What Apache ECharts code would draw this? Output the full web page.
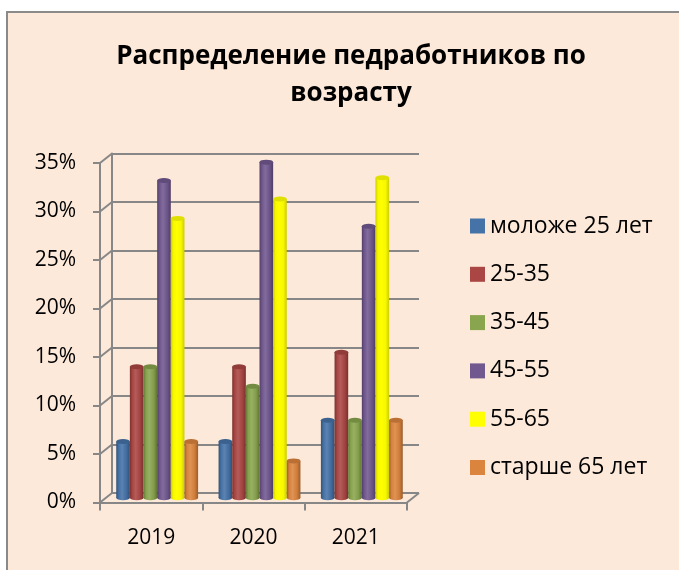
<!DOCTYPE html>
<html>
<head>
<meta charset="utf-8">
<script src="https://cdn.jsdelivr.net/npm/echarts@6/dist/echarts.min.js"></script>
<style>
  html, body { margin: 0; padding: 0; background: #ffffff; }
  #wrap { position: relative; width: 679px; height: 570px; overflow: hidden; }
  #frame { position: absolute; left: 6px; top: 11px; width: 700px; height: 600px;
           background: #FDE9D9; border-left: 2px solid #8a8a8a; border-top: 2px solid #8a8a8a; }
  #chart { position: absolute; left: 0; top: 0; width: 679px; height: 570px; }
</style>
</head>
<body>
<div id="wrap"><div id="frame"></div><div id="chart"></div></div>
<script>
// Years on the category axis
const categories = ['2019', '2020', '2021'];

// Share of teaching staff by age group, percent
const seriesNames = ['моложе 25 лет', '25-35', '35-45', '45-55', '55-65', 'старше 65 лет'];
const under25 = [5.8, 5.8, 8];
const age25to35 = [13.5, 13.5, 15];
const age35to45 = [13.5, 11.5, 8];
const age45to55 = [32.7, 34.6, 28];
const age55to65 = [28.8, 30.8, 33];
const over65 = [5.8, 3.8, 8];

// Value axis ticks, percent
const yTicks = [0, 5, 10, 15, 20, 25, 30, 35];

const seriesValues = [under25, age25to35, age35to45, age45to55, age55to65, over65];
const baseColors = ['#4572A7', '#AA4643', '#89A54E', '#71588F', '#FFFF00', '#DB843D'];

const FONT = '"Open Sans", "Noto Sans", sans-serif';
const GRID_COLOR = '#878787';
// depth offset of the back wall relative to the front plane
const DX = 12, DY = -9.5;

function shade(hex, k) {
  const n = parseInt(hex.slice(1), 16);
  let r = (n >> 16) & 255, g = (n >> 8) & 255, b = n & 255;
  if (k < 1) { r *= k; g *= k; b *= k; }
  else { const t = k - 1; r += (255 - r) * t; g += (255 - g) * t; b += (255 - b) * t; }
  const h = v => Math.round(Math.max(0, Math.min(255, v))).toString(16).padStart(2, '0');
  return '#' + h(r) + h(g) + h(b);
}

function cylinder(hex) {
  const isYellow = hex === '#FFFF00';
  return new echarts.graphic.LinearGradient(0, 0, 1, 0, [
    { offset: 0, color: shade(hex, isYellow ? 0.8 : 0.72) },
    { offset: 0.18, color: shade(hex, isYellow ? 0.97 : 0.98) },
    { offset: 0.42, color: shade(hex, isYellow ? 1.0 : 1.12) },
    { offset: 0.75, color: shade(hex, isYellow ? 0.97 : 0.95) },
    { offset: 1, color: shade(hex, isYellow ? 0.8 : 0.7) }
  ]);
}

const BAR_GAP = '0%';
const CAT_GAP = '20%';

const series = [];
// bodies of the columns
seriesNames.forEach((name, i) => {
  series.push({
    name: name, type: 'bar', xAxisIndex: 2, yAxisIndex: 2,
    data: seriesValues[i], barGap: BAR_GAP, barCategoryGap: CAT_GAP,
    itemStyle: { color: cylinder(baseColors[i]) },
    emphasis: { disabled: true }, z: 3
  });
});
// rounded top caps
seriesNames.forEach((name, i) => {
  series.push({
    name: name, type: 'pictorialBar', xAxisIndex: 2, yAxisIndex: 2,
    data: seriesValues[i], barGap: BAR_GAP, barCategoryGap: CAT_GAP,
    symbol: 'circle', symbolSize: ['100%', 5], symbolPosition: 'end', symbolOffset: [0, '-50%'],
    itemStyle: { color: shade(baseColors[i], baseColors[i] === '#FFFF00' ? 0.88 : 0.85) },
    emphasis: { disabled: true }, z: 5, silent: true
  });
});
// rounded bottom caps
seriesNames.forEach((name, i) => {
  series.push({
    name: name, type: 'pictorialBar', xAxisIndex: 3, yAxisIndex: 2,
    data: seriesValues[i], barGap: BAR_GAP, barCategoryGap: CAT_GAP,
    symbol: 'circle', symbolSize: ['100%', 5], symbolPosition: 'start', symbolOffset: [0, '50%'],
    itemStyle: { color: cylinder(baseColors[i]) },
    emphasis: { disabled: true }, z: 3, silent: true
  });
});
// oblique links between the front axis ticks and the back wall gridlines
series.push({
  type: 'custom', xAxisIndex: 1, yAxisIndex: 1, silent: true, z: 1,
  data: yTicks.map(v => [0, v]),
  encode: { x: 0, y: 1 },
  renderItem: function (params, api) {
    const cs = params.coordSys;
    const y = api.coord([0, api.value(1)])[1];
    const style = { stroke: GRID_COLOR, lineWidth: 2 };
    const children = [{
      type: 'line', shape: { x1: cs.x, y1: y, x2: cs.x + DX, y2: y + DY }, style: style
    }];
    if (api.value(1) === 0) {
      const xr = cs.x + cs.width;
      children.push({ type: 'line', shape: { x1: xr, y1: y, x2: xr + DX, y2: y + DY }, style: style });
    }
    return { type: 'group', children: children };
  }
});

const frontLeft = 100, frontRight = 407, frontZero = 502.5, frontTop = 163;
const backZero = frontZero + DY, backTop = frontTop + DY;
const barZero = frontZero + DY / 2, barTop = frontTop + DY / 2;

const option = {
  backgroundColor: 'transparent',
  animation: false,
  title: {
    text: 'Распределение педработников по\nвозрасту',
    left: 346, top: 33, textAlign: 'center',
    textStyle: { fontFamily: FONT, fontSize: 26, fontWeight: 'bold', color: '#000', lineHeight: 37 }
  },
  legend: {
    orient: 'vertical', left: 465, top: 209,
    itemWidth: 15, itemHeight: 15, itemGap: 24.3,
    icon: 'rect',
    data: seriesNames.map((n, i) => ({ name: n, itemStyle: { color: baseColors[i] } })),
    textStyle: { fontFamily: FONT, fontSize: 23, color: '#000', lineHeight: 24 },
    selectedMode: false
  },
  grid: [
    // back wall
    { left: frontLeft + DX, right: 679 - (frontRight + DX), top: backTop, bottom: 570 - backZero },
    // front plane: axes, ticks and labels
    { left: frontLeft, right: 679 - frontRight, top: frontTop, bottom: 570 - frontZero },
    // columns at mid depth
    { left: frontLeft + DX / 2, right: 679 - (frontRight + DX / 2), top: barTop, bottom: 570 - barZero }
  ],
  xAxis: [
    { type: 'category', gridIndex: 0, data: categories, show: false },
    {
      type: 'category', gridIndex: 1, data: categories,
      axisLine: { show: true, lineStyle: { color: GRID_COLOR, width: 2 } },
      axisTick: { show: true, alignWithLabel: false, length: 8, lineStyle: { color: GRID_COLOR, width: 2 } },
      axisLabel: { fontFamily: FONT, fontSize: 21, color: '#000', margin: 25 },
      splitLine: { show: false }
    },
    { type: 'category', gridIndex: 2, data: categories, show: false },
    { type: 'category', gridIndex: 2, data: categories, show: false }
  ],
  yAxis: [
    {
      type: 'value', gridIndex: 0, min: 0, max: 35, interval: 5,
      axisLine: { show: true, lineStyle: { color: GRID_COLOR, width: 2 } },
      axisTick: { show: false }, axisLabel: { show: false },
      splitLine: { show: true, lineStyle: { color: GRID_COLOR, width: 2 } }
    },
    {
      type: 'value', gridIndex: 1, min: 0, max: 35, interval: 5,
      axisLine: { show: true, lineStyle: { color: GRID_COLOR, width: 2 } },
      axisTick: { show: true, length: 7, lineStyle: { color: GRID_COLOR, width: 2 } },
      axisLabel: { fontFamily: FONT, fontSize: 21, color: '#000', margin: 24, formatter: '{value}%' },
      splitLine: { show: false }
    },
    { type: 'value', gridIndex: 2, min: 0, max: 35, interval: 5, show: false, splitLine: { show: false } }
  ],
  series: series
};

const chart = echarts.init(document.getElementById('chart'), null, { renderer: 'canvas' });
chart.setOption(option);
</script>
</body>
</html>
